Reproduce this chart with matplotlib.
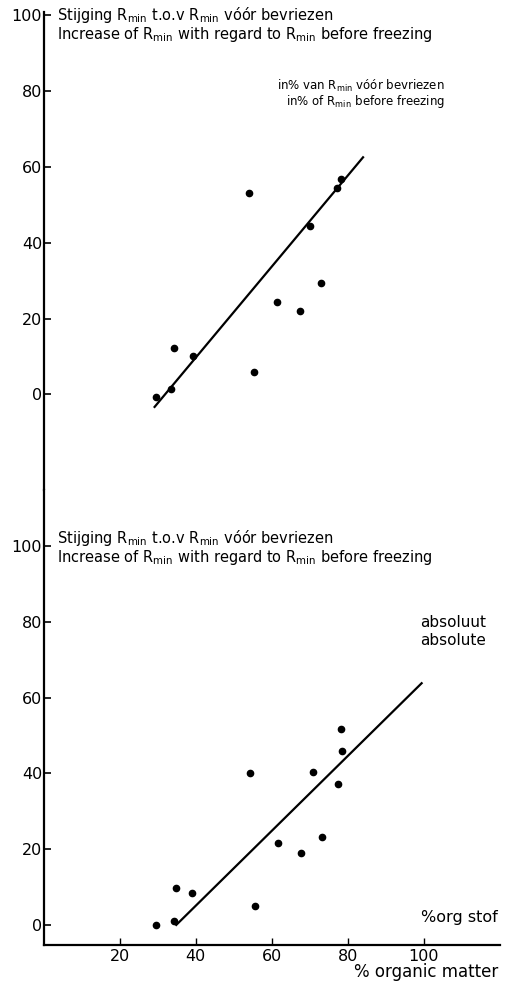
import numpy as np
import matplotlib.pyplot as plt

plt.rcParams['font.family'] = 'DejaVu Sans'
plt.rcParams['mathtext.default'] = 'regular'

# Stijging in % van R_min voor bevriezen
org_pct = [29.5, 33.6, 34.2, 39.3, 53.9, 55.3, 61.4, 67.4, 70.0, 72.9, 77.2, 78.3]
stijging_pct = [-0.8, 1.3, 12.1, 10.1, 53.2, 5.9, 24.3, 22.1, 44.4, 29.4, 54.5, 56.7]
lijn_pct_x = [29.2, 84.0]
lijn_pct_y = [-3.3, 62.5]

# Stijging absoluut
org_abs = [29.7, 34.2, 34.8, 39.0, 54.3, 55.6, 61.6, 67.7, 70.9, 73.2, 77.4, 78.4, 78.3]
stijging_abs = [-0.1, 1.1, 9.8, 8.4, 40.0, 4.9, 21.7, 19.0, 40.3, 23.2, 37.3, 45.9, 51.8]
lijn_abs_x = [34.9, 99.4]
lijn_abs_y = [0.0, 63.8]

y_ticks = [0, 20, 40, 60, 80, 100]
x_ticks = [20, 40, 60, 80, 100]

fig = plt.figure(figsize=(5.13, 9.85), dpi=100)
W, H = 513, 985
left = 43.5 / W
width = (500 - 43.5) / W

ax1 = fig.add_axes([left, 1 - 490 / H, width, (490 - 12) / H])
ax2 = fig.add_axes([left, 1 - 945 / H, width, (945 - 490) / H])

for ax in (ax1, ax2):
    ax.set_xlim(0, 120)
    ax.spines['top'].set_visible(False)
    ax.spines['right'].set_visible(False)
    ax.spines['left'].set_linewidth(1.6)
    ax.set_yticks(y_ticks)
    ax.tick_params(axis='y', direction='in', length=5, width=1.2, labelsize=11.5, pad=1)

ax1.set_ylim(-25.2, 100.8)
ax1.spines['bottom'].set_visible(False)
ax1.set_xticks([])

ax2.set_ylim(-5.3, 114.8)
ax2.spines['bottom'].set_linewidth(1.6)
ax2.set_xticks(x_ticks)
ax2.tick_params(axis='x', direction='in', length=5, width=1.0, labelsize=11.5, pad=3)

# punten en regressielijnen
ax1.plot(org_pct, stijging_pct, 'o', color='black', markersize=4.5)
ax1.plot(lijn_pct_x, lijn_pct_y, '-', color='black', lw=1.6)
ax2.plot(org_abs, stijging_abs, 'o', color='black', markersize=4.5)
ax2.plot(lijn_abs_x, lijn_abs_y, '-', color='black', lw=1.6)

fs = 10.5
titel_nl = 'Stijging $R_{min}$ t.o.v $R_{min}$ vóór bevriezen'
titel_en = 'Increase of $R_{min}$ with regard to $R_{min}$ before freezing'

fig.text(57 / W, 1 - 20 / H, titel_nl, fontsize=fs, va='baseline')
fig.text(57 / W, 1 - 39 / H, titel_en, fontsize=fs, va='baseline')
fig.text(445 / W, 1 - 90 / H, 'in% van $R_{min}$ vóór bevriezen', fontsize=8.5, ha='right', va='baseline')
fig.text(445 / W, 1 - 105 / H, 'in% of $R_{min}$ before freezing', fontsize=8.5, ha='right', va='baseline')

fig.text(57 / W, 1 - 543 / H, titel_nl, fontsize=fs, va='baseline')
fig.text(57 / W, 1 - 562 / H, titel_en, fontsize=fs, va='baseline')
fig.text(420 / W, 1 - 627 / H, 'absoluut', fontsize=11, va='baseline')
fig.text(420 / W, 1 - 645 / H, 'absolute', fontsize=11, va='baseline')

fig.text(498 / W, 1 - 922 / H, '%org stof', fontsize=11.5, ha='right', va='baseline')
fig.text(498 / W, 1 - 977 / H, '% organic matter', fontsize=12, ha='right', va='baseline')

fig.savefig('out.png', dpi=100)
